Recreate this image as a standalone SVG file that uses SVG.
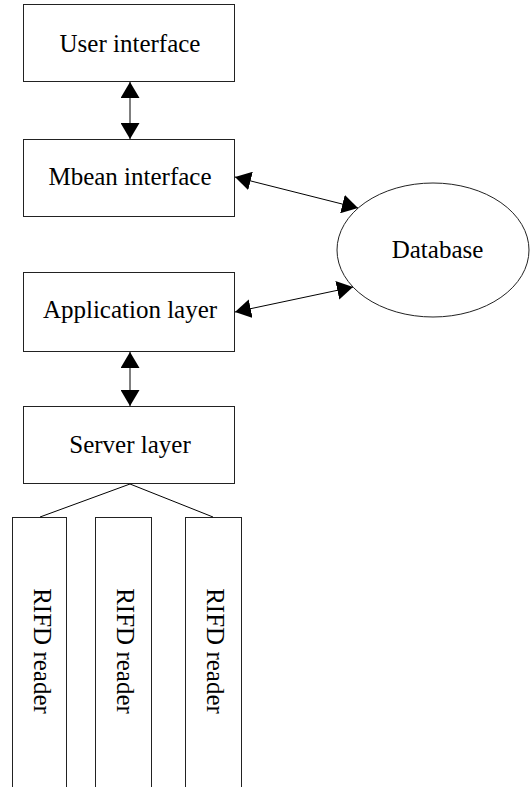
<svg xmlns="http://www.w3.org/2000/svg" width="530" height="787" viewBox="0 0 530 787">
<style>
.box{fill:#fff;stroke:#222;stroke-width:1}
.lbl{font-family:"Liberation Serif","Times New Roman",serif;font-size:25px;fill:#000;text-anchor:middle}
.conn{stroke:#000;stroke-width:1;fill:none}
</style>
<defs>
<marker id="ah" viewBox="0 0 16 19" refX="16" refY="9.5" markerWidth="16" markerHeight="19" markerUnits="userSpaceOnUse" orient="auto-start-reverse">
<path d="M0,0 L16,9.5 L0,19 z" fill="#000"/>
</marker>
</defs>
<rect width="530" height="787" fill="#fff"/>
<g id="user-interface">
<rect class="box" x="23.5" y="4.5" width="211" height="77"/>
<text class="lbl" x="130" y="52">User interface</text>
</g>
<g id="mbean-interface">
<rect class="box" x="23.5" y="139.5" width="211" height="77"/>
<text class="lbl" x="130" y="185">Mbean interface</text>
</g>
<g id="application-layer">
<rect class="box" x="23.5" y="272.5" width="211" height="79"/>
<text class="lbl" x="130" y="318">Application layer</text>
</g>
<g id="server-layer">
<rect class="box" x="23.5" y="406.5" width="211" height="77"/>
<text class="lbl" x="130" y="453">Server layer</text>
</g>
<g id="database">
<ellipse class="box" cx="433" cy="250" rx="96" ry="67"/>
<text class="lbl" x="437.5" y="258">Database</text>
</g>
<g id="reader-1">
<rect class="box" x="12.5" y="517.5" width="54" height="272"/>
<text class="lbl" transform="translate(34,651) rotate(90)" x="0" y="0">RIFD reader</text>
</g>
<g id="reader-2">
<rect class="box" x="95.5" y="517.5" width="56" height="272"/>
<text class="lbl" transform="translate(117,651) rotate(90)" x="0" y="0">RIFD reader</text>
</g>
<g id="reader-3">
<rect class="box" x="185.5" y="517.5" width="56" height="272"/>
<text class="lbl" transform="translate(207,651) rotate(90)" x="0" y="0">RIFD reader</text>
</g>
<g id="connectors">
<line class="conn" x1="130" y1="82" x2="130" y2="139" marker-start="url(#ah)" marker-end="url(#ah)"/>
<line class="conn" x1="130" y1="352" x2="130" y2="406" marker-start="url(#ah)" marker-end="url(#ah)"/>
<line class="conn" x1="235" y1="177" x2="358" y2="208" marker-start="url(#ah)" marker-end="url(#ah)"/>
<line class="conn" x1="235" y1="312" x2="353" y2="287" marker-start="url(#ah)" marker-end="url(#ah)"/>
<line class="conn" x1="130" y1="484" x2="40" y2="517"/>
<line class="conn" x1="130" y1="484" x2="213" y2="517"/>
</g>
</svg>
